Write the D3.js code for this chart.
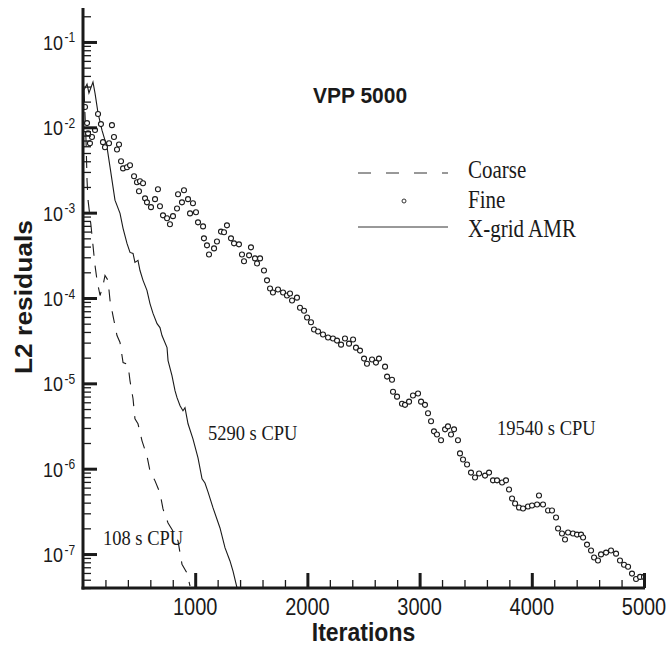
<!DOCTYPE html>
<html>
<head>
<meta charset="utf-8">
<script src="https://cdn.jsdelivr.net/npm/d3@7"></script>
<style>
  body { margin: 0; background: #fff; }
  svg { display: block; }
</style>
</head>
<body>
<script>
// data
var xMajor = [1000, 2000, 3000, 4000, 5000];
var yExponents = [-1, -2, -3, -4, -5, -6, -7];

var coarseIter = [9, 27, 36, 45, 71, 89, 107, 125, 152, 178, 196, 223, 241, 267, 303, 330, 357, 401, 419, 446, 463, 490, 526, 570, 597, 642, 686, 713, 758, 802, 847, 882, 927, 954];
var coarseRes = [2.73e-2, 7.07e-3, 2.4e-3, 1.4e-3, 7.1e-4, 4.14e-4, 2.41e-4, 1.61e-4, 1.07e-4, 1.4e-4, 1.84e-4, 1.61e-4, 9.35e-5, 6.23e-5, 3.63e-5, 3.01e-5, 1.75e-5, 1.66e-5, 1.07e-5, 6.6e-6, 3.85e-6, 3.36e-6, 2.12e-6, 1.41e-6, 9.4e-7, 7.2e-7, 5.2e-7, 3.38e-7, 2.31e-7, 1.86e-7, 1.42e-7, 7.6e-8, 6.0e-8, 4.2e-8];

var amrIter = [9, 36, 53, 89, 107, 134, 169, 214, 241, 285, 330, 357, 392, 419, 446, 463, 490, 508, 535, 570, 597, 624, 660, 686, 704, 749, 758, 793, 820, 838, 865, 891, 909, 936, 980, 1025, 1061, 1087, 1114, 1159, 1221, 1266, 1310, 1337, 1373];
var amrRes = [2.73e-2, 3.21e-2, 2.52e-2, 3.39e-2, 2.52e-2, 1.47e-2, 9.26e-3, 5.85e-3, 3.41e-3, 1.4e-3, 9.8e-4, 6.55e-4, 4.36e-4, 3.42e-4, 3.33e-4, 2.61e-4, 2.76e-4, 2.1e-4, 1.61e-4, 1.23e-4, 8.6e-5, 6.6e-5, 5.0e-5, 4.5e-5, 3.63e-5, 2.62e-5, 1.85e-5, 1.23e-5, 8.2e-6, 6.8e-6, 5.47e-6, 4.78e-6, 5.2e-6, 3.36e-6, 2.24e-6, 1.34e-6, 7.6e-7, 6.8e-7, 5.35e-7, 3.47e-7, 2.02e-7, 1.18e-7, 8.3e-8, 6.3e-8, 4.0e-8];

var fineIter = [18,36,45,62,80,107,134,160,178,196,232,258,276,303,321,339,357,392,419,455,481,499,508,535,553,570,606,642,668,686,713,749,775,802,838,847,882,900,936,954,980,1007,1025,1070,1078,1105,1123,1168,1194,1230,1257,1283,1319,1346,1390,1417,1435,1480,1497,1533,1551,1578,1613,1640,1667,1693,1738,1783,1818,1845,1863,1907,1934,1970,1997,2032,2059,2095,2139,2184,2228,2264,2300,2335,2371,2407,2433,2469,2505,2531,2576,2611,2638,2692,2710,2754,2763,2799,2843,2870,2906,2941,2986,3013,3048,3075,3102,3128,3155,3191,3227,3253,3280,3307,3342,3360,3387,3423,3458,3494,3530,3583,3619,3654,3690,3735,3770,3797,3824,3851,3886,3922,3966,4002,4047,4064,4100,4145,4180,4216,4234,4269,4296,4323,4367,4403,4439,4457,4492,4528,4555,4590,4617,4662,4706,4751,4786,4822,4858,4893,4929,4965,5000];
var fineRes = [1.73e-2,1.12e-2,8.5e-3,6.5e-3,7.7e-3,9.3e-3,1.43e-2,1.09e-2,6.7e-3,5.85e-3,
  6.5e-3,1.06e-2,7.7e-3,5.5e-3,6.3e-3,4.0e-3,3.3e-3,3.4e-3,3.6e-3,2.67e-3,
  2.27e-3,1.78e-3,2.33e-3,2.21e-3,1.47e-3,1.32e-3,1.16e-3,1.44e-3,1.88e-3,1.19e-3,
  9.3e-4,8.6e-4,7.3e-4,9.1e-4,1.12e-3,1.64e-3,1.32e-3,1.83e-3,1.44e-3,9.8e-4,
  1.29e-3,1.01e-3,7.7e-4,6.9e-4,5.0e-4,4.14e-4,3.24e-4,3.81e-4,4.6e-4,6.0e-4,
  5.9e-4,7.1e-4,5.0e-4,4.37e-4,4.25e-4,3.24e-4,2.69e-4,3.16e-4,3.92e-4,2.91e-4,
  2.54e-4,2.91e-4,2.1e-4,1.61e-4,1.29e-4,1.16e-4,1.26e-4,1.16e-4,1.07e-4,1.13e-4,
  9.35e-5,1.01e-4,7.7e-5,7.1e-5,5.9e-5,5.2e-5,4.27e-5,4.05e-5,3.73e-5,3.44e-5,
  3.35e-5,3.17e-5,2.84e-5,3.35e-5,2.92e-5,3.26e-5,2.62e-5,2.42e-5,1.95e-5,1.7e-5,
  1.9e-5,1.75e-5,1.95e-5,1.57e-5,1.2e-5,1.1e-5,7.98e-6,6.98e-6,5.77e-6,5.6e-6,
  6.1e-6,7.2e-6,7.6e-6,6.1e-6,5.6e-6,4.46e-6,3.59e-6,2.74e-6,2.52e-6,2.15e-6,
  2.89e-6,3.13e-6,2.52e-6,2.89e-6,2.15e-6,1.51e-6,1.28e-6,1.12e-6,9.0e-7,7.9e-7,
  8.8e-7,8.3e-7,9.0e-7,7.3e-7,7.3e-7,6.9e-7,7.3e-7,5.7e-7,4.48e-7,3.91e-7,
  3.51e-7,3.42e-7,3.61e-7,3.71e-7,3.81e-7,4.85e-7,3.81e-7,3.24e-7,3.24e-7,2.68e-7,
  1.99e-7,1.74e-7,1.48e-7,1.79e-7,1.74e-7,1.69e-7,1.69e-7,1.56e-7,1.29e-7,1.1e-7,
  9.1e-8,8.4e-8,9.9e-8,1.04e-7,1.1e-7,1.01e-7,8.4e-8,7.5e-8,7.1e-8,5.9e-8,
  5.1e-8,5.4e-8,5.4e-8];

var sans = "'Liberation Sans', Arial, Helvetica, sans-serif";
var serif = "'Liberation Serif', 'Times New Roman', serif";
var ink = "#1a1a1a";

var svg = d3.select("body").append("svg").attr("width", 670).attr("height", 652);

var xScale = d3.scaleLinear().domain([0, 5000]).range([83, 644]);
var yScale = d3.scaleLog().domain([4e-8, 0.25]).range([588, 8]);

// text helper, the figure's lettering is a little stretched vertically
function label(px, py, txt, font, size, weight, anchor, k) {
    var g = svg.append("g").attr("transform", "translate(" + px + "," + py + ") scale(1," + k + ")");
    return g.append("text").attr("font-family", font).attr("font-size", size)
        .attr("font-weight", weight).attr("text-anchor", anchor).attr("fill", ink).text(txt);
}

// minor tick values
var xMinor = d3.range(200, 5000, 200).filter(function(t) { return t % 1000 != 0; });
var yMinor = [];
for (var e = -8; e <= -1; e++) {
    for (var m = 2; m <= 9; m++) {
        var mv = m * Math.pow(10, e);
        if (mv >= 4e-8 && mv <= 0.25) yMinor.push(mv);
    }
}
var yMajor = yExponents.map(function(p) { return Math.pow(10, p); });

// tick labels
xMajor.forEach(function(t) {
    label(xScale(t), 615, String(t), sans, 20, "normal", "middle", 1.2);
});
yExponents.forEach(function(p) {
    var ty = yScale(Math.pow(10, p));
    label(63, ty + 8, "10", sans, 18, "normal", "end", 1.15);
    label(64.5, ty + 0.5, String(p), sans, 12, "normal", "start", 1.15);
});

// axis titles
label(363.5, 641, "Iterations", sans, 23, "bold", "middle", 1.12);
svg.append("g").attr("transform", "translate(32,297) rotate(-90) scale(1.1,1)")
    .append("text").attr("font-family", sans).attr("font-size", 24).attr("font-weight", "bold")
    .attr("text-anchor", "middle").attr("fill", ink).text("L2 residuals");

// plot area
svg.append("clipPath").attr("id", "plotclip").append("rect")
    .attr("x", 83).attr("y", 8).attr("width", 562).attr("height", 580);
var plot = svg.append("g").attr("clip-path", "url(#plotclip)");

var lineGen = d3.line().x(function(d) { return xScale(d[0]); }).y(function(d) { return yScale(d[1]); });

plot.append("path").datum(d3.zip(coarseIter, coarseRes))
    .attr("d", lineGen).attr("fill", "none").attr("stroke", ink).attr("stroke-width", 1.1)
    .attr("stroke-dasharray", "12,10");

plot.append("path").datum(d3.zip(amrIter, amrRes))
    .attr("d", lineGen).attr("fill", "none").attr("stroke", ink).attr("stroke-width", 1.1);

plot.selectAll("circle.fine").data(d3.zip(fineIter, fineRes)).enter().append("circle")
    .attr("class", "fine")
    .attr("cx", function(d) { return xScale(d[0]); })
    .attr("cy", function(d) { return yScale(d[1]); })
    .attr("r", 2.5)
    .attr("fill", "#fff").attr("stroke", ink).attr("stroke-width", 1.1);

// title + annotations
label(313, 103, "VPP 5000", sans, 21, "bold", "start", 1.08);
label(208, 440, "5290 s CPU", serif, 18.5, "normal", "start", 1.1);
label(497, 435, "19540 s CPU", serif, 18.5, "normal", "start", 1.1);
label(103, 545, "108 s CPU", serif, 18.5, "normal", "start", 1.1);

// legend
var legend = svg.append("g");
legend.append("line").attr("x1", 358).attr("x2", 448).attr("y1", 173).attr("y2", 173)
    .attr("stroke", "#333").attr("stroke-width", 1).attr("stroke-dasharray", "13,15");
legend.append("circle").attr("cx", 404).attr("cy", 201).attr("r", 2)
    .attr("fill", "#fff").attr("stroke", "#333").attr("stroke-width", 1);
legend.append("line").attr("x1", 358).attr("x2", 448).attr("y1", 227).attr("y2", 227)
    .attr("stroke", "#333").attr("stroke-width", 1);
label(468, 178, "Coarse", serif, 21, "normal", "start", 1.2);
label(468, 208, "Fine", serif, 21, "normal", "start", 1.2);
label(468, 237, "X-grid AMR", serif, 21, "normal", "start", 1.2);

// axes: ticks point inward, minor ticks in a second pass
function styleAxis(g, w) {
    g.select(".domain").remove();
    g.selectAll(".tick line").attr("stroke", ink).attr("stroke-width", w);
    g.selectAll(".tick text").remove();
}
svg.append("g").attr("transform", "translate(0,588)")
    .call(d3.axisBottom(xScale).tickValues(xMinor).tickSizeInner(-8).tickSizeOuter(0))
    .call(styleAxis, 1.3);
svg.append("g").attr("transform", "translate(0,588)")
    .call(d3.axisBottom(xScale).tickValues(xMajor).tickSizeInner(-15).tickSizeOuter(0))
    .call(styleAxis, 3);
svg.append("g").attr("transform", "translate(83,0)")
    .call(d3.axisLeft(yScale).tickValues(yMinor).tickSizeInner(-8).tickSizeOuter(0))
    .call(styleAxis, 1.3);
svg.append("g").attr("transform", "translate(83,0)")
    .call(d3.axisLeft(yScale).tickValues(yMajor).tickSizeInner(-14).tickSizeOuter(0))
    .call(styleAxis, 3);

// axis lines on top
svg.append("line").attr("x1", xScale(0) - 1.5).attr("x2", xScale(5000) + 1)
    .attr("y1", yScale(4e-8)).attr("y2", yScale(4e-8))
    .attr("stroke", ink).attr("stroke-width", 3);
svg.append("line").attr("x1", xScale(0)).attr("x2", xScale(0))
    .attr("y1", yScale(0.25)).attr("y2", yScale(4e-8) + 1.5)
    .attr("stroke", ink).attr("stroke-width", 3);
</script>
</body>
</html>
